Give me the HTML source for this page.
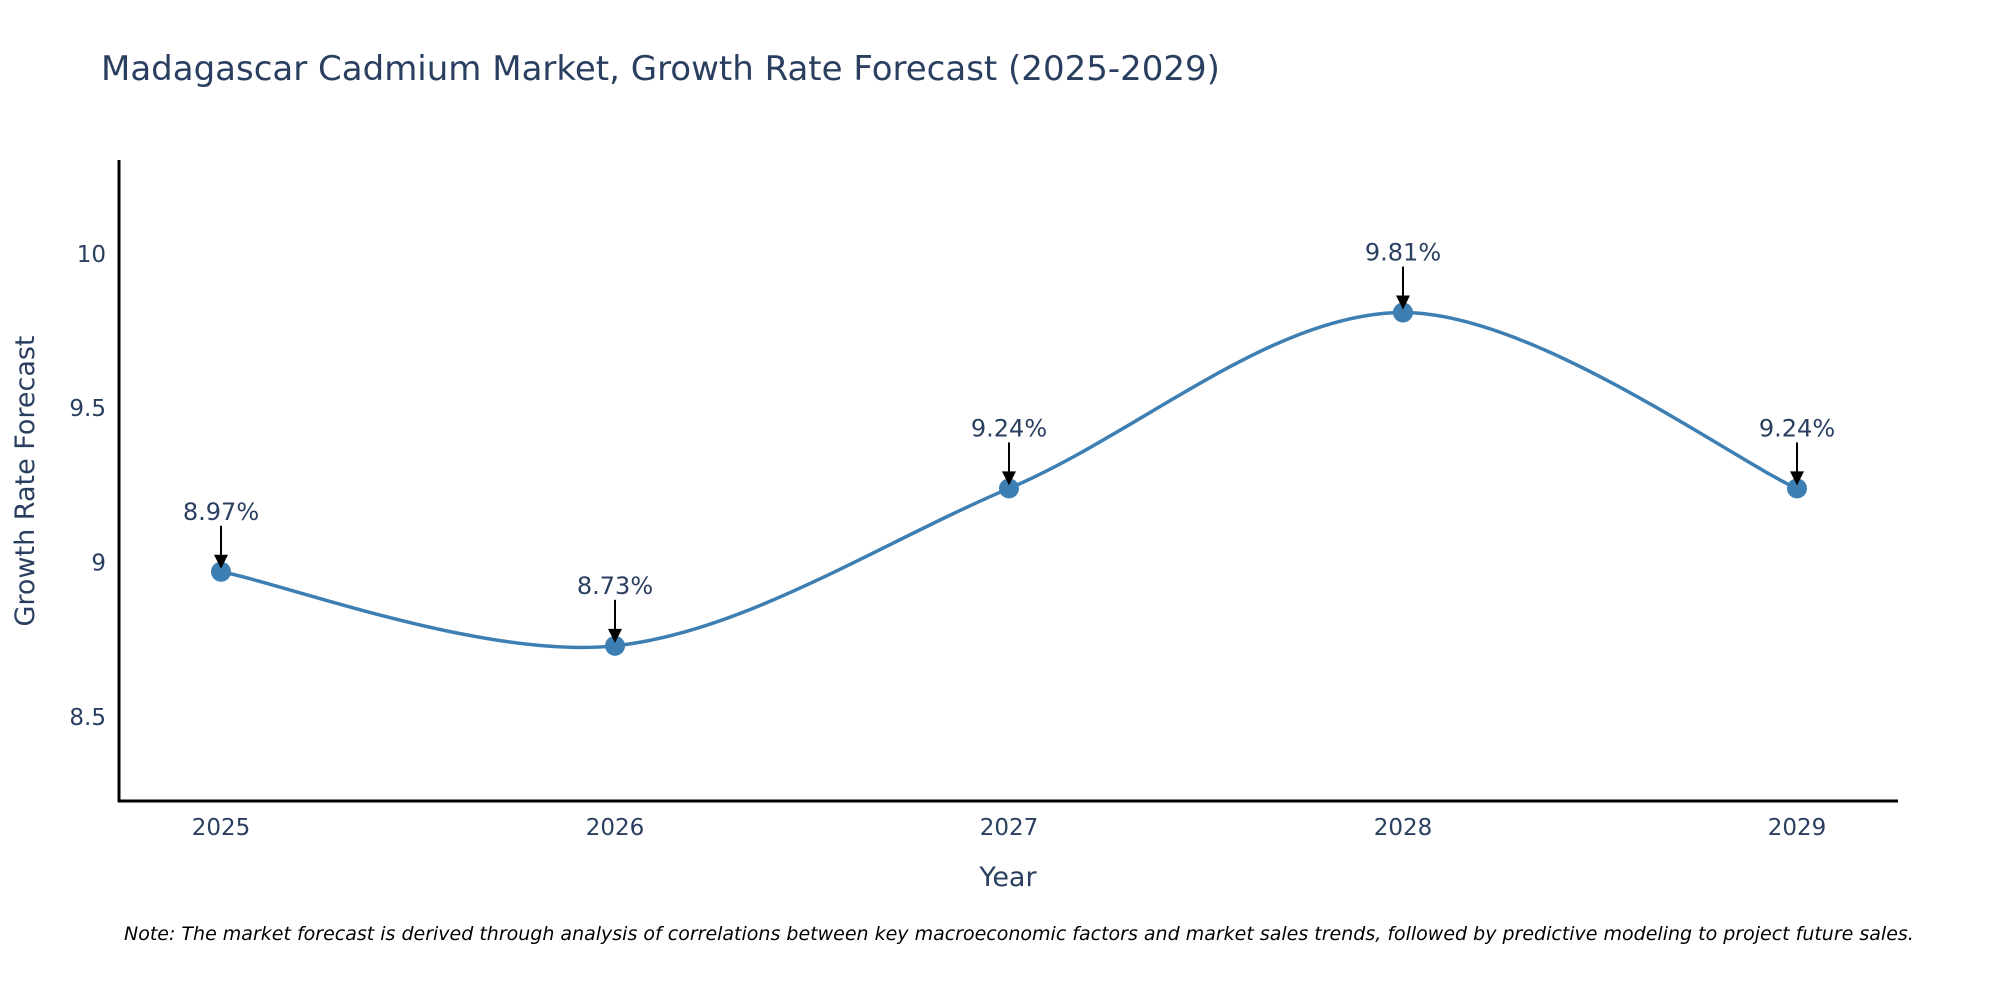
<!DOCTYPE html>
<html><head><meta charset="utf-8"><style>
body{margin:0;background:#fff;overflow:hidden;}
svg text{font-family:"DejaVu Sans","Liberation Sans",sans-serif;}
</style></head><body>
<svg id="chart" width="2000" height="1000" viewBox="0 0 2000 1000" xmlns="http://www.w3.org/2000/svg">
<text x="101" y="80" font-size="34" fill="#2a3f5f">Madagascar Cadmium Market, Growth Rate Forecast (2025-2029)</text>
<g id="yticks"></g>
<g id="xticks"></g>
<line x1="119" y1="160" x2="119" y2="802" stroke="#000" stroke-width="3"/>
<line x1="118" y1="801" x2="1898" y2="801" stroke="#000" stroke-width="3"/>
<g id="series"></g>
<g id="annots"></g>
<text x="1008" y="886" font-size="27" fill="#2a3f5f" text-anchor="middle">Year</text>
<text transform="translate(34,481) rotate(-90)" font-size="27" fill="#2a3f5f" text-anchor="middle">Growth Rate Forecast</text>
<text x="124" y="940" font-size="19" font-style="italic" fill="#000">Note: The market forecast is derived through analysis of correlations between key macroeconomic factors and market sales trends, followed by predictive modeling to project future sales.</text>
</svg>
<script>
const years=["2025","2026","2027","2028","2029"];
const values=[8.97,8.73,9.24,9.81,9.24];
const yTicks=[8.5,9,9.5,10];
const yTickLabels=["8.5","9","9.5","10"];
const NS="http://www.w3.org/2000/svg";
function xPos(i){return 221+i*394;}
function yPos(v){return 562.5-(v-9)*308.6;}
function mk(t,a){const e=document.createElementNS(NS,t);for(const k in a)e.setAttribute(k,a[k]);return e;}
const yt=document.getElementById('yticks');
yTicks.forEach((v,i)=>{const t=mk('text',{x:106,y:yPos(v)+8,'font-size':23,fill:'#2a3f5f','text-anchor':'end'});


t.textContent=yTickLabels[i];yt.appendChild(t);});
const xt=document.getElementById('xticks');
years.forEach((y,i)=>{const t=mk('text',{x:xPos(i),y:835,'font-size':23,fill:'#2a3f5f','text-anchor':'middle'});


t.textContent=y;xt.appendChild(t);});
const pts=values.map((v,i)=>[xPos(i),yPos(v)]);
let d='M'+pts[0][0]+','+pts[0][1];const s=0.33;
for(let i=0;i<pts.length-1;i++){const p0=pts[Math.max(0,i-1)],p1=pts[i],p2=pts[i+1],p3=pts[Math.min(pts.length-1,i+2)];
const c1=[p1[0]+(p2[0]-p0[0])*s/2,p1[1]+(p2[1]-p0[1])*s/2];
const c2=[p2[0]-(p3[0]-p1[0])*s/2,p2[1]-(p3[1]-p1[1])*s/2];
d+=' C'+c1+' '+c2+' '+p2;}
const g=document.getElementById('series');
const path=mk('path',{d:d,fill:'none',stroke:'#3d7fb2','stroke-width':3.5});


g.appendChild(path);
const an=document.getElementById('annots');
pts.forEach((p,i)=>{const c=mk('circle',{cx:p[0],cy:p[1],r:10,fill:'#3d7fb2'});


g.appendChild(c);
const l=mk('line',{x1:p[0],y1:p[1]-46,x2:p[0],y2:p[1]-14,stroke:'#000','stroke-width':2});


an.appendChild(l);
const h=mk('polygon',{points:(p[0]-7)+','+(p[1]-17)+' '+(p[0]+7)+','+(p[1]-17)+' '+p[0]+','+(p[1]-3),fill:'#000'});


an.appendChild(h);
const t=mk('text',{x:p[0],y:p[1]-52,'font-size':24,fill:'#2a3f5f','text-anchor':'middle'});


t.textContent=values[i].toFixed(2)+'%';an.appendChild(t);});
</script>
</body></html>
